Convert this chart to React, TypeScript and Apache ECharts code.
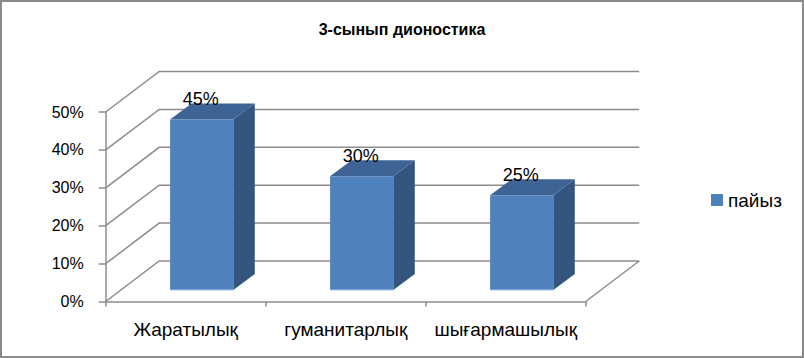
import React, { useEffect, useRef } from "react";
import * as echarts from "echarts";

const title = "3-сынып дионостика";
const seriesName = "пайыз";
const categories = ["Жаратылық", "гуманитарлық", "шығармашылық"];
const values = [0.45, 0.3, 0.25];
const yTicks = [0, 0.1, 0.2, 0.3, 0.4, 0.5];

const FONT = "'Liberation Sans', Arial, sans-serif";
const GRID = "#8C8C8C";
const FRONT = "#4F81BD";
const TOP = "#3D6495";
const SIDE = "#33557F";

// oblique projection of the 3D box
const WALL_DX = 53.5;
const WALL_DY = 40.5;
const BAR_SHIFT_X = 16;
const BAR_SHIFT_Y = 11.5;
const BAR_DX = 21.5;
const BAR_DY = 16;

const pct = (v: number) => Math.round(v * 100) + "%";

export default function App() {
  const ref = useRef<HTMLDivElement>(null);
  useEffect(() => {
    if (!ref.current) return;
    const chart = echarts.init(ref.current, undefined, { renderer: "svg" });
    const option: any = {
      animation: false,
      backgroundColor: "#ffffff",
      title: {
        text: title,
        left: "center",
        top: 21,
        padding: 0,
        textStyle: { fontFamily: FONT, fontSize: 16, fontWeight: "bold", color: "#000" },
      },
      legend: {
        data: [seriesName],
        orient: "vertical",
        left: 711,
        top: 190,
        padding: 0,
        icon: "rect",
        itemWidth: 12,
        itemHeight: 12,
        itemGap: 5,
        textStyle: { fontFamily: FONT, fontSize: 19, color: "#000", lineHeight: 20 },
      },
      graphic: [
        {
          type: "rect",
          shape: { x: 1, y: 1, width: 802, height: 356 },
          style: { fill: "none", stroke: "#8A8A8A", lineWidth: 2 },
          silent: true,
          z: 100,
        },
      ],
      grid: { left: 105.7, right: 218.3, top: 112, bottom: 56.5, containLabel: false },
      xAxis: {
        type: "category",
        data: categories,
        boundaryGap: true,
        axisLine: { show: true, lineStyle: { color: GRID, width: 1.5 } },
        axisTick: { show: true, length: 5, lineStyle: { color: GRID, width: 1.5 } },
        axisLabel: { fontFamily: FONT, fontSize: 19, color: "#000", margin: 18, interval: 0 },
        splitLine: { show: false },
      },
      yAxis: {
        type: "value",
        min: 0,
        max: 0.5,
        interval: 0.1,
        axisLine: { show: true, lineStyle: { color: GRID, width: 1.5 } },
        axisTick: { show: true, length: 7, lineStyle: { color: GRID, width: 1.5 } },
        axisLabel: {
          fontFamily: FONT,
          fontSize: 16,
          color: "#000",
          margin: 22,
          padding: [7, 0, 0, 0],
          formatter: (v: number) => pct(v),
        },
        splitLine: { show: false },
      },
      series: [
        {
          type: "custom",
          name: "wall",
          z: 1,
          silent: true,
          encode: { x: 0, y: 1 },
          data: yTicks.map((t) => [0, t]),
          renderItem: (params: any, api: any) => {
            const v = api.value(1);
            const c = api.coord([0, v]);
            const bw = api.size([1, 0])[0];
            const left = c[0] - bw / 2;
            const right = left + bw * categories.length;
            const y = c[1];
            const children: any[] = [
              {
                type: "polyline",
                shape: {
                  points: [
                    [left, y],
                    [left + WALL_DX, y - WALL_DY],
                    [right + WALL_DX, y - WALL_DY],
                  ],
                },
                style: { stroke: GRID, lineWidth: 1.5, fill: "none" },
              },
            ];
            if (v === 0) {
              children.push({
                type: "line",
                shape: { x1: right, y1: y, x2: right + WALL_DX, y2: y - WALL_DY },
                style: { stroke: GRID, lineWidth: 1.5 },
              });
            }
            return { type: "group", children };
          },
        },
        {
          type: "custom",
          name: seriesName,
          z: 2,
          itemStyle: { color: FRONT },
          encode: { x: 0, y: 1 },
          data: values.map((v, i) => [i, v]),
          renderItem: (params: any, api: any) => {
            const idx = api.value(0);
            const v = api.value(1);
            const base = api.coord([idx, 0]);
            const top = api.coord([idx, v]);
            const bw = api.size([1, 0])[0];
            const w = bw * 0.395;
            const cx = base[0] + BAR_SHIFT_X;
            const x0 = cx - w / 2;
            const x1 = cx + w / 2;
            const yb = base[1] - BAR_SHIFT_Y;
            const yt = top[1] - BAR_SHIFT_Y;
            return {
              type: "group",
              children: [
                {
                  type: "polygon",
                  shape: {
                    points: [
                      [x1, yt],
                      [x1 + BAR_DX, yt - BAR_DY],
                      [x1 + BAR_DX, yb - BAR_DY],
                      [x1, yb],
                    ],
                  },
                  style: { fill: SIDE },
                },
                {
                  type: "polygon",
                  shape: {
                    points: [
                      [x0, yt],
                      [x0 + BAR_DX, yt - BAR_DY],
                      [x1 + BAR_DX, yt - BAR_DY],
                      [x1, yt],
                    ],
                  },
                  style: { fill: TOP },
                },
                {
                  type: "rect",
                  shape: { x: x0, y: yt, width: w, height: yb - yt },
                  style: { fill: FRONT },
                },
                {
                  type: "line",
                  shape: { x1: x0, y1: yb, x2: x1, y2: yb },
                  style: { stroke: "#A9C2E0", lineWidth: 1 },
                },
                {
                  type: "text",
                  style: {
                    text: pct(v),
                    x: cx - 1,
                    y: yt - 20.5,
                    align: "center",
                    verticalAlign: "middle",
                    textAlign: "center",
                    textVerticalAlign: "middle",
                    fontFamily: FONT,
                    fontSize: 18,
                    fill: "#000",
                  },
                },
              ],
            };
          },
        },
      ],
    };
    chart.setOption(option);
    return () => chart.dispose();
  }, []);
  return (
    <div
      ref={ref}
      style={{ position: "absolute", left: 0, top: 0, width: 804, height: 358 }}
    />
  );
}
